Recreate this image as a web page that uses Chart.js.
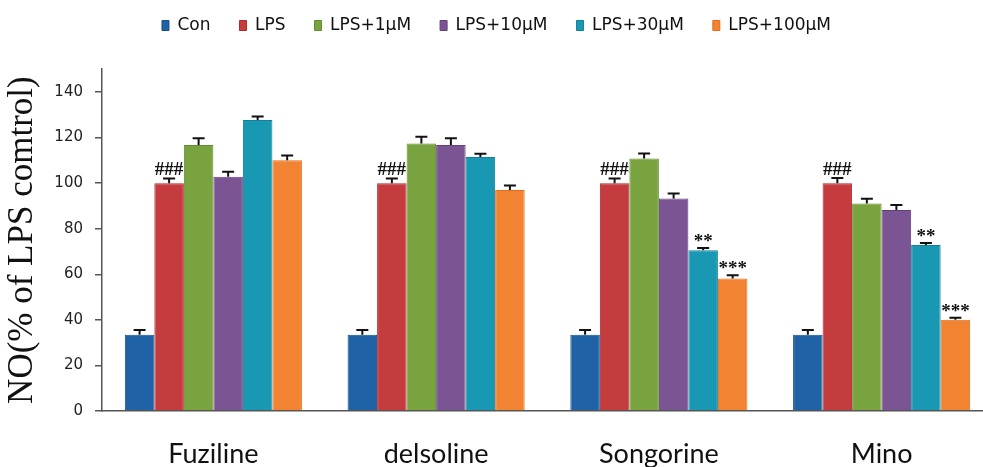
<!DOCTYPE html>
<html>
<head>
<meta charset="utf-8">
<script src="https://cdn.jsdelivr.net/npm/chart.js@4/dist/chart.umd.min.js"></script>
<style>
  html, body { margin: 0; padding: 0; background: #fff; overflow: hidden; width: 983px; height: 467px; }
  #wrap { width: 1005px; height: 467px; }
</style>
</head>
<body>
<div id="wrap"><canvas id="c" width="1005" height="467"></canvas></div>
<script>
// Compounds on the x axis
const categories = ['Fuziline', 'delsoline', 'Songorine', 'Mino'];

// Treatment groups (legend order)
const seriesNames = ['Con', 'LPS', 'LPS+1µM', 'LPS+10µM', 'LPS+30µM', 'LPS+100µM'];

// NO production, % of LPS control (mean)
const conValues    = [33.5, 33.5, 33.5, 33.5];
const lpsValues    = [100, 100, 100, 100];
const lps1Values   = [116.7, 117.4, 110.8, 91.1];
const lps10Values  = [102.8, 116.7, 93.3, 88.2];
const lps30Values  = [127.7, 111.5, 70.6, 72.8];
const lps100Values = [110, 97, 58.2, 40];

// Upper error (SEM)
const conErr    = [2, 2, 2, 2];
const lpsErr    = [2, 2, 2, 2.2];
const lps1Err   = [3, 3, 2.2, 2];
const lps10Err  = [2.2, 3, 2.2, 2.2];
const lps30Err  = [1.5, 1.4, 0.9, 0.9];
const lps100Err = [2.1, 2, 1.4, 0.9];

// Significance marks above bars
const conMarks    = ['', '', '', ''];
const lpsMarks    = ['###', '###', '###', '###'];
const lps1Marks   = ['', '', '', ''];
const lps10Marks  = ['', '', '', ''];
const lps30Marks  = ['', '', '**', '**'];
const lps100Marks = ['', '', '***', '***'];

// Y axis
const yMin = 0, yMax = 150, yStep = 20;
const yTitle = 'NO(% of LPS comtrol)';

const fills   = ['#1f62a5', '#c43c3e', '#79a33e', '#7a5493', '#1898b2', '#f28332'];
const borders = ['#17508a', '#b0282c', '#648c2c', '#64407c', '#11819a', '#e26d1c'];

const values = [conValues, lpsValues, lps1Values, lps10Values, lps30Values, lps100Values];
const errs   = [conErr, lpsErr, lps1Err, lps10Err, lps30Err, lps100Err];
const marks  = [conMarks, lpsMarks, lps1Marks, lps10Marks, lps30Marks, lps100Marks];

const datasets = seriesNames.map((name, i) => ({
  label: name,
  data: values[i],
  errors: errs[i],
  marks: marks[i],
  backgroundColor: fills[i],
  borderColor: borders[i],
  borderWidth: 1,
  barPercentage: 1.0,
  categoryPercentage: 0.795
}));

// Draws the one-sided error bars and the significance marks
const errorBarPlugin = {
  id: 'errorBars',
  afterDatasetsDraw(chart) {
    const ctx = chart.ctx;
    const y = chart.scales.y;
    chart.data.datasets.forEach((ds, i) => {
      const meta = chart.getDatasetMeta(i);
      meta.data.forEach((bar, j) => {
        const v = ds.data[j];
        const top = y.getPixelForValue(v + ds.errors[j]);
        const x = bar.x;
        ctx.save();
        ctx.strokeStyle = '#111';
        ctx.lineWidth = 2;
        ctx.beginPath();
        ctx.moveTo(x, bar.y);
        ctx.lineTo(x, top);
        ctx.moveTo(x - 6, top);
        ctx.lineTo(x + 6, top);
        ctx.stroke();
        const m = ds.marks[j];
        if (m) {
          ctx.font = 'bold 19px "Liberation Serif", "DejaVu Serif", serif';
          ctx.fillStyle = '#111';
          ctx.textAlign = 'center';
          ctx.textBaseline = 'alphabetic';
          const tm = ctx.measureText(m);
          const center = top - 10;
          const base = center + (tm.actualBoundingBoxAscent - tm.actualBoundingBoxDescent) / 2;
          ctx.fillText(m, x, base);
        }
        ctx.restore();
      });
    });
  }
};

new Chart(document.getElementById('c'), {
  type: 'bar',
  data: { labels: categories, datasets },
  plugins: [errorBarPlugin],
  options: {
    responsive: false,
    animation: false,
    devicePixelRatio: 1,
    layout: { padding: { top: -12, left: 0, right: 12, bottom: 0 } },
    plugins: {
      legend: {
        position: 'top',
        labels: {
          boxWidth: 7,
          boxHeight: 10,
          padding: 29,
          color: '#111',
          font: { family: '"DejaVu Sans", sans-serif', size: 17 }
        }
      },
      // empty spacer between the legend and the plot area
      title: {
        display: true,
        text: '',
        position: 'top',
        weight: 500,
        padding: { top: 24, bottom: 0 },
        font: { size: 1 }
      },
      tooltip: { enabled: false }
    },
    scales: {
      x: {
        grid: { display: true, drawOnChartArea: false, drawTicks: false },
        border: { display: true, color: '#555', width: 1.5 },
        ticks: {
          padding: 27,
          color: '#111',
          font: { family: 'Lato, "Liberation Sans", sans-serif', size: 27 }
        },
        afterFit(scale) { scale.height = 56; }
      },
      y: {
        min: yMin,
        max: yMax,
        ticks: {
          stepSize: yStep,
          padding: 12,
          color: '#222',
          font: { family: '"DejaVu Sans", sans-serif', size: 15 }
        },
        afterBuildTicks(scale) {
          scale.ticks = scale.ticks.filter(t => t.value % yStep === 0);
        },
        grid: { display: true, drawOnChartArea: false, drawTicks: true, tickLength: 7, color: '#555', lineWidth: 1.5 },
        border: { display: true, color: '#555', width: 1.5 },
        title: {
          display: true,
          text: yTitle,
          color: '#111',
          padding: { top: 2, bottom: 0 },
          font: { family: '"Liberation Serif", "Times New Roman", serif', size: 35 }
        },
        afterFit(scale) { scale.width = 102; }
      }
    }
  }
});
</script>
</body>
</html>
